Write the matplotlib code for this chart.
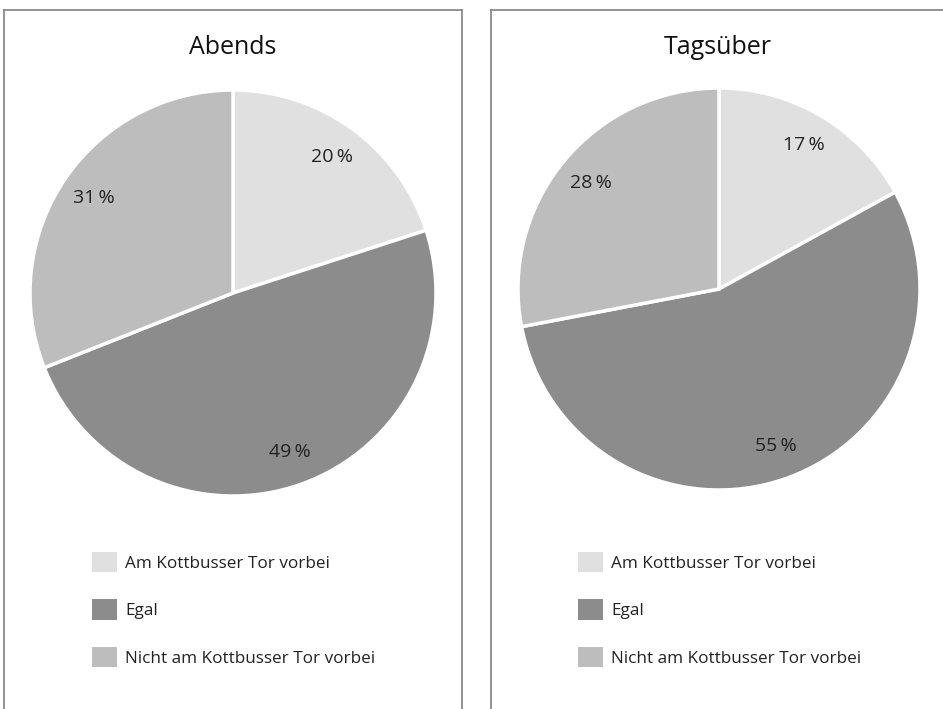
import matplotlib
matplotlib.use("Agg")
import matplotlib.pyplot as plt
from matplotlib.patches import Patch
from matplotlib.lines import Line2D

plt.rcParams['font.family'] = ['Open Sans', 'DejaVu Sans']

categories = ["Am Kottbusser Tor vorbei", "Egal", "Nicht am Kottbusser Tor vorbei"]
titles = ["Abends", "Tagsüber"]
abends = [20, 49, 31]
tagsueber = [17, 55, 28]
colors = ["#e0e0e0", "#8c8c8c", "#bdbdbd"]

W, H = 943, 709
fig = plt.figure(figsize=(W / 100, H / 100), dpi=100)

def fx(px):
    return px / W

def fy(py):
    return 1 - py / H

# panel borders (top, left, right)
border = "#8a8a8a"
for (x0, x1, right) in [(4, 462, True), (491, 945, False)]:
    fig.add_artist(Line2D([fx(x0), fx(x1)], [fy(10), fy(10)], color=border, lw=1.3))
    fig.add_artist(Line2D([fx(x0), fx(x0)], [fy(10), fy(712)], color=border, lw=1.3))
    if right:
        fig.add_artist(Line2D([fx(x1), fx(x1)], [fy(10), fy(712)], color=border, lw=1.3))

panels = [
    (abends, titles[0], 233, 293, 203, 233, 92),
    (tagsueber, titles[1], 719, 289, 201, 718, 578),
]

for vals, title, cx, cy, r, tx, lx in panels:
    ax = fig.add_axes([fx(cx - r), fy(cy + r), 2 * r / W, 2 * r / H])
    ax.pie(vals, colors=colors, startangle=90, counterclock=False,
           autopct=lambda p: f"{p:.0f}\u2009%", pctdistance=0.83,
           wedgeprops=dict(edgecolor="white", linewidth=2.5),
           textprops=dict(fontsize=14, color="#222222"))
    ax.set_xlim(-1, 1)
    ax.set_ylim(-1, 1)
    ax.set_aspect("equal")
    ax.axis("off")
    fig.text(fx(tx), fy(47), title, ha="center", va="center", fontsize=18, color="#111111")
    handles = [Patch(facecolor=c, edgecolor="none") for c in colors]
    fig.legend(handles, categories, loc="upper left",
               bbox_to_anchor=(fx(lx - 13), fy(539)), frameon=False,
               fontsize=12.3, handlelength=1.45, handleheight=1.45,
               handletextpad=0.5, labelspacing=1.6, borderpad=0.25,
               labelcolor="#222222")

fig.savefig("out.png", dpi=100)
